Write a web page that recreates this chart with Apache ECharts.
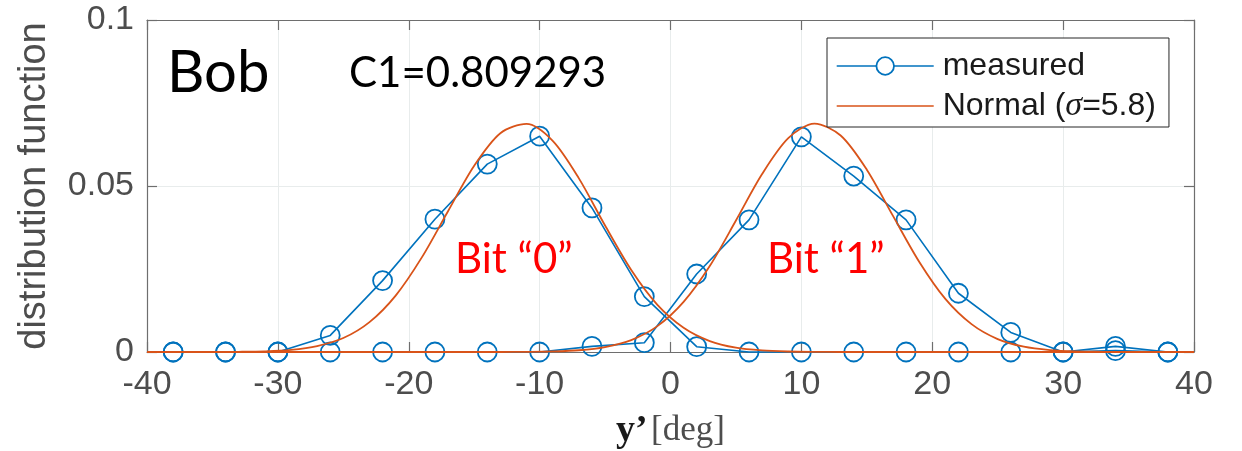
<!DOCTYPE html>
<html>
<head>
<meta charset="utf-8">
<script src="https://cdn.jsdelivr.net/npm/echarts@6/dist/echarts.min.js"></script>
<style>
html,body{margin:0;padding:0;background:#fff;}
#c{width:1242px;height:451px;}
</style>
</head>
<body>
<div id="c"></div>
<script>
// measured sample positions (deg)
var measuredX = [-38,-34,-30,-26,-22,-18,-14,-10,-6,-2,2,6,10,14,18,22,26,30,34,38];
// measured distribution for bit "0"
var measuredBit0 = [0,0,0,0.005,0.0215,0.040,0.0566,0.065,0.0434,0.0167,0.0016,0,0,0,0,0,0,0,0.0004,0];
// measured distribution for bit "1"
var measuredBit1 = [0,0,0,0,0,0,0,0,0.0017,0.0028,0.0235,0.0398,0.0648,0.053,0.0398,0.0177,0.0059,0,0.0017,0];

// normal fit curves
var normalX = [-40,-39,-37,-35,-33,-31,-29,-27,-25,-23,-21,-19,-17,-15,-13,-11,-9,-7,-5,-3,-1,1,3,5,7,9,11,13,15,17,19,21,23,25,27,29,31,33,35,37,39,40];
var normalBit0 = [0,0,0,0,0.00006,0.00021,0.00065,0.0018,0.0042,0.0090,0.0170,0.0285,0.0424,0.0561,0.0659,0.0687,0.0636,0.0523,0.0381,0.0247,0.0142,0.0073,0.0033,0.0013,0.00047,0.00015,0.00004,0,0,0,0,0,0,0,0,0,0,0,0,0,0,0];
var normalBit1 = [0,0,0,0,0,0,0,0,0,0,0,0,0,0,0,0.00005,0.00017,0.00053,0.0015,0.0036,0.0078,0.0151,0.0259,0.0396,0.0536,0.0644,0.0688,0.0652,0.0549,0.0410,0.0272,0.0160,0.0084,0.0039,0.0016,0.00059,0.00019,0.00006,0,0,0,0];

var xTicks = {min: -40, max: 40, interval: 10};
var yTicks = {min: 0, max: 0.1, interval: 0.05};

var legendMeasured = 'measured';
var legendNormal = 'Normal (σ=5.8)';

function pairs(xs, ys){ return xs.map(function(x,i){ return [x, ys[i]]; }); }

var BLUE = '#0072BD', ORANGE = '#D95319';
var AXIS = '#6e6e6e', GRID = '#e8ecec', LABEL = '#4d4d4d';

var chart = echarts.init(document.getElementById('c'), null, {renderer:'canvas'});

function measuredSeries(data){
  return {
    type:'line', name: legendMeasured, data: data, xAxisIndex:0, yAxisIndex:0,
    symbol:'circle', symbolSize:19, clip:false, z:2,
    lineStyle:{color:BLUE, width:1.6},
    itemStyle:{color:'rgba(255,255,255,0)', borderColor:BLUE, borderWidth:1.8},
    emphasis:{disabled:true}, animation:false
  };
}
function normalSeries(data){
  return {
    type:'line', name: legendNormal, data: data, xAxisIndex:0, yAxisIndex:0,
    symbol:'none', smooth:0.3, clip:false, z:3,
    lineStyle:{color:ORANGE, width:1.8},
    itemStyle:{color:ORANGE},
    emphasis:{disabled:true}, animation:false
  };
}

var option = {
  animation:false,
  backgroundColor:'#fff',
  grid:{left:147, right:48, top:20, bottom:99, outerBoundsMode:'none', containLabel:false},
  legend:{
    data:[
      {name:legendMeasured, itemStyle:{color:'#fff', borderColor:BLUE, borderWidth:1.8}, lineStyle:{color:BLUE, width:1.4}},
      {name:legendNormal, itemStyle:{opacity:0}, lineStyle:{color:ORANGE, width:1.4}}
    ],
    orient:'vertical', left:827, top:38,
    padding:[12,13,4,9], itemGap:7,
    itemWidth:97, itemHeight:22,
    backgroundColor:'#fff', borderColor:'#262626', borderWidth:1,
    selectedMode:false,
    textStyle:{fontFamily:'Liberation Sans', fontSize:32, lineHeight:24, color:'#1a1a1a', padding:[0,0,0,4],
      rich:{
        a:{fontFamily:'Liberation Sans', fontSize:32, lineHeight:24, color:'#1a1a1a'},
        i:{fontFamily:'Liberation Serif', fontStyle:'italic', fontSize:34, lineHeight:24, color:'#1a1a1a'}
      }
    },
    formatter:function(n){
      if(n===legendNormal) return '{a|Normal (}{i|σ}{a|=5.8)}';
      return '{a|' + n + '}';
    }
  },
  xAxis:[{
    type:'value', position:'bottom', min:xTicks.min, max:xTicks.max, interval:xTicks.interval,
    axisLine:{show:true, onZero:false, lineStyle:{color:AXIS, width:1.2}},
    axisTick:{show:true, inside:true, length:10, lineStyle:{color:AXIS, width:1.2}},
    axisLabel:{fontSize:34, color:LABEL, fontFamily:'Liberation Sans', margin:16},
    splitLine:{show:true, lineStyle:{color:GRID, width:1}},
    name:'{b|y’} {r|[deg]}', nameLocation:'middle', nameGap:60,
    nameTextStyle:{rich:{
      b:{fontFamily:'Liberation Serif', fontWeight:'bold', fontSize:38, color:'#1a1a1a'},
      r:{fontFamily:'Liberation Serif', fontSize:35, color:LABEL}
    }}
  },{
    type:'value', position:'top', min:xTicks.min, max:xTicks.max, interval:xTicks.interval,
    axisLine:{show:true, onZero:false, lineStyle:{color:AXIS, width:1.2}},
    axisTick:{show:true, inside:true, length:10, lineStyle:{color:AXIS, width:1.2}},
    axisLabel:{show:false}, splitLine:{show:false}
  }],
  yAxis:[{
    type:'value', position:'left', min:yTicks.min, max:yTicks.max, interval:yTicks.interval,
    axisLine:{show:true, onZero:false, lineStyle:{color:AXIS, width:1.2}},
    axisTick:{show:true, inside:true, length:10, lineStyle:{color:AXIS, width:1.2}},
    axisLabel:{fontSize:34, color:LABEL, fontFamily:'Liberation Sans', margin:13},
    splitLine:{show:true, lineStyle:{color:GRID, width:1}},
    name:'distribution function', nameLocation:'middle', nameRotate:90, nameGap:93,
    nameTextStyle:{fontFamily:'Liberation Sans', fontSize:38, color:LABEL}
  },{
    type:'value', position:'right', min:yTicks.min, max:yTicks.max, interval:yTicks.interval,
    axisLine:{show:true, onZero:false, lineStyle:{color:AXIS, width:1.2}},
    axisTick:{show:true, inside:true, length:10, lineStyle:{color:AXIS, width:1.2}},
    axisLabel:{show:false}, splitLine:{show:false}
  }],
  graphic:[
    {type:'text', left:167, top:44, z:10, style:{text:'Bob', font:'58px Lato', fill:'#000'}},
    {type:'text', left:349, top:52, z:10, style:{text:'C1=0.809293', font:'42px Lato', fill:'#000'}},
    {type:'text', left:455, top:238, z:10, style:{text:'Bit “0”', font:'42px Lato', fill:'#ff0000'}},
    {type:'text', left:767, top:238, z:10, style:{text:'Bit “1”', font:'42px Lato', fill:'#ff0000'}}
  ],
  series:[
    measuredSeries(pairs(measuredX, measuredBit0)),
    normalSeries(pairs(normalX, normalBit0)),
    measuredSeries(pairs(measuredX, measuredBit1)),
    normalSeries(pairs(normalX, normalBit1))
  ]
};
chart.setOption(option);
</script>
</body>
</html>
